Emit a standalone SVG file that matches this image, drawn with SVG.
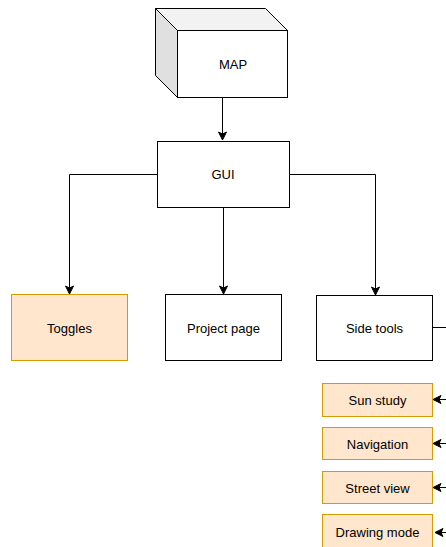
<svg xmlns="http://www.w3.org/2000/svg" width="446" height="547" viewBox="0 0 446 547">
<style>
.box{fill:#ffffff;stroke:#000000;stroke-width:1}
.sub{fill:#ffe6cc;stroke:#d79b00;stroke-width:1}
.lbl{font-family:"Liberation Sans",Arial,sans-serif;font-size:13px;fill:#000000;text-anchor:middle;dominant-baseline:central}
.edge{fill:none;stroke:#000000;stroke-width:1}
</style>
<defs>
<marker id="arr" viewBox="-9 -5 9 10" refX="0" refY="0" markerWidth="9" markerHeight="10" markerUnits="userSpaceOnUse" orient="auto">
<path d="M0,0 L-8,-4 L-6,0 L-8,4 Z" fill="#000000" stroke="#000000" stroke-width="1"/>
</marker>
</defs>
<rect width="446" height="547" fill="#ffffff"/>
<g id="connectors">
<path class="edge" d="M222.5,97.5 V140" marker-end="url(#arr)"/>
<path class="edge" d="M157,174.5 H69.5 V294" marker-end="url(#arr)"/>
<path class="edge" d="M223.5,207.5 V294" marker-end="url(#arr)"/>
<path class="edge" d="M289.5,174.5 H375.5 V295" marker-end="url(#arr)"/>
<path class="edge" d="M432,327.5 H446"/>
<path class="edge" d="M446,399.5 H433" marker-end="url(#arr)"/>
<path class="edge" d="M446,443.5 H433" marker-end="url(#arr)"/>
<path class="edge" d="M446,487.5 H433" marker-end="url(#arr)"/>
<path class="edge" d="M446,532.5 H435" marker-end="url(#arr)"/>
</g>
<g id="map">
<path d="M155.5,8.5 H265.5 L287.5,30.5 H177.5 Z" fill="#f2f2f2" stroke="#000000"/>
<path d="M155.5,8.5 L177.5,30.5 V97.5 L155.5,75.5 Z" fill="#e0e0e0" stroke="#000000"/>
<rect x="177.5" y="30.5" width="110" height="67" class="box"/>
<text x="233" y="64" class="lbl">MAP</text>
</g>
<g id="gui">
<rect x="157.5" y="141.5" width="132" height="66" class="box"/>
<text x="223" y="174" class="lbl">GUI</text>
</g>
<g id="toggles">
<rect x="11.5" y="294.5" width="116" height="66" class="sub"/>
<text x="69.5" y="328" class="lbl">Toggles</text>
</g>
<g id="project">
<rect x="165.5" y="294.5" width="116" height="66" class="box"/>
<text x="223.5" y="328" class="lbl">Project page</text>
</g>
<g id="sidetools">
<rect x="316.5" y="295.5" width="116" height="65" class="box"/>
<text x="374.5" y="328" class="lbl">Side tools</text>
</g>
<g id="sunstudy">
<rect x="322.5" y="383.5" width="110" height="33" class="sub"/>
<text x="377.5" y="400" class="lbl">Sun study</text>
</g>
<g id="navigation">
<rect x="322.5" y="427.5" width="110" height="32" class="sub"/>
<text x="377.5" y="444" class="lbl">Navigation</text>
</g>
<g id="streetview">
<rect x="322.5" y="471.5" width="110" height="32" class="sub"/>
<text x="377.5" y="488" class="lbl">Street view</text>
</g>
<g id="drawingmode">
<rect x="322.5" y="514.5" width="110" height="34" class="sub"/>
<text x="377.5" y="532" class="lbl">Drawing mode</text>
</g>
</svg>
